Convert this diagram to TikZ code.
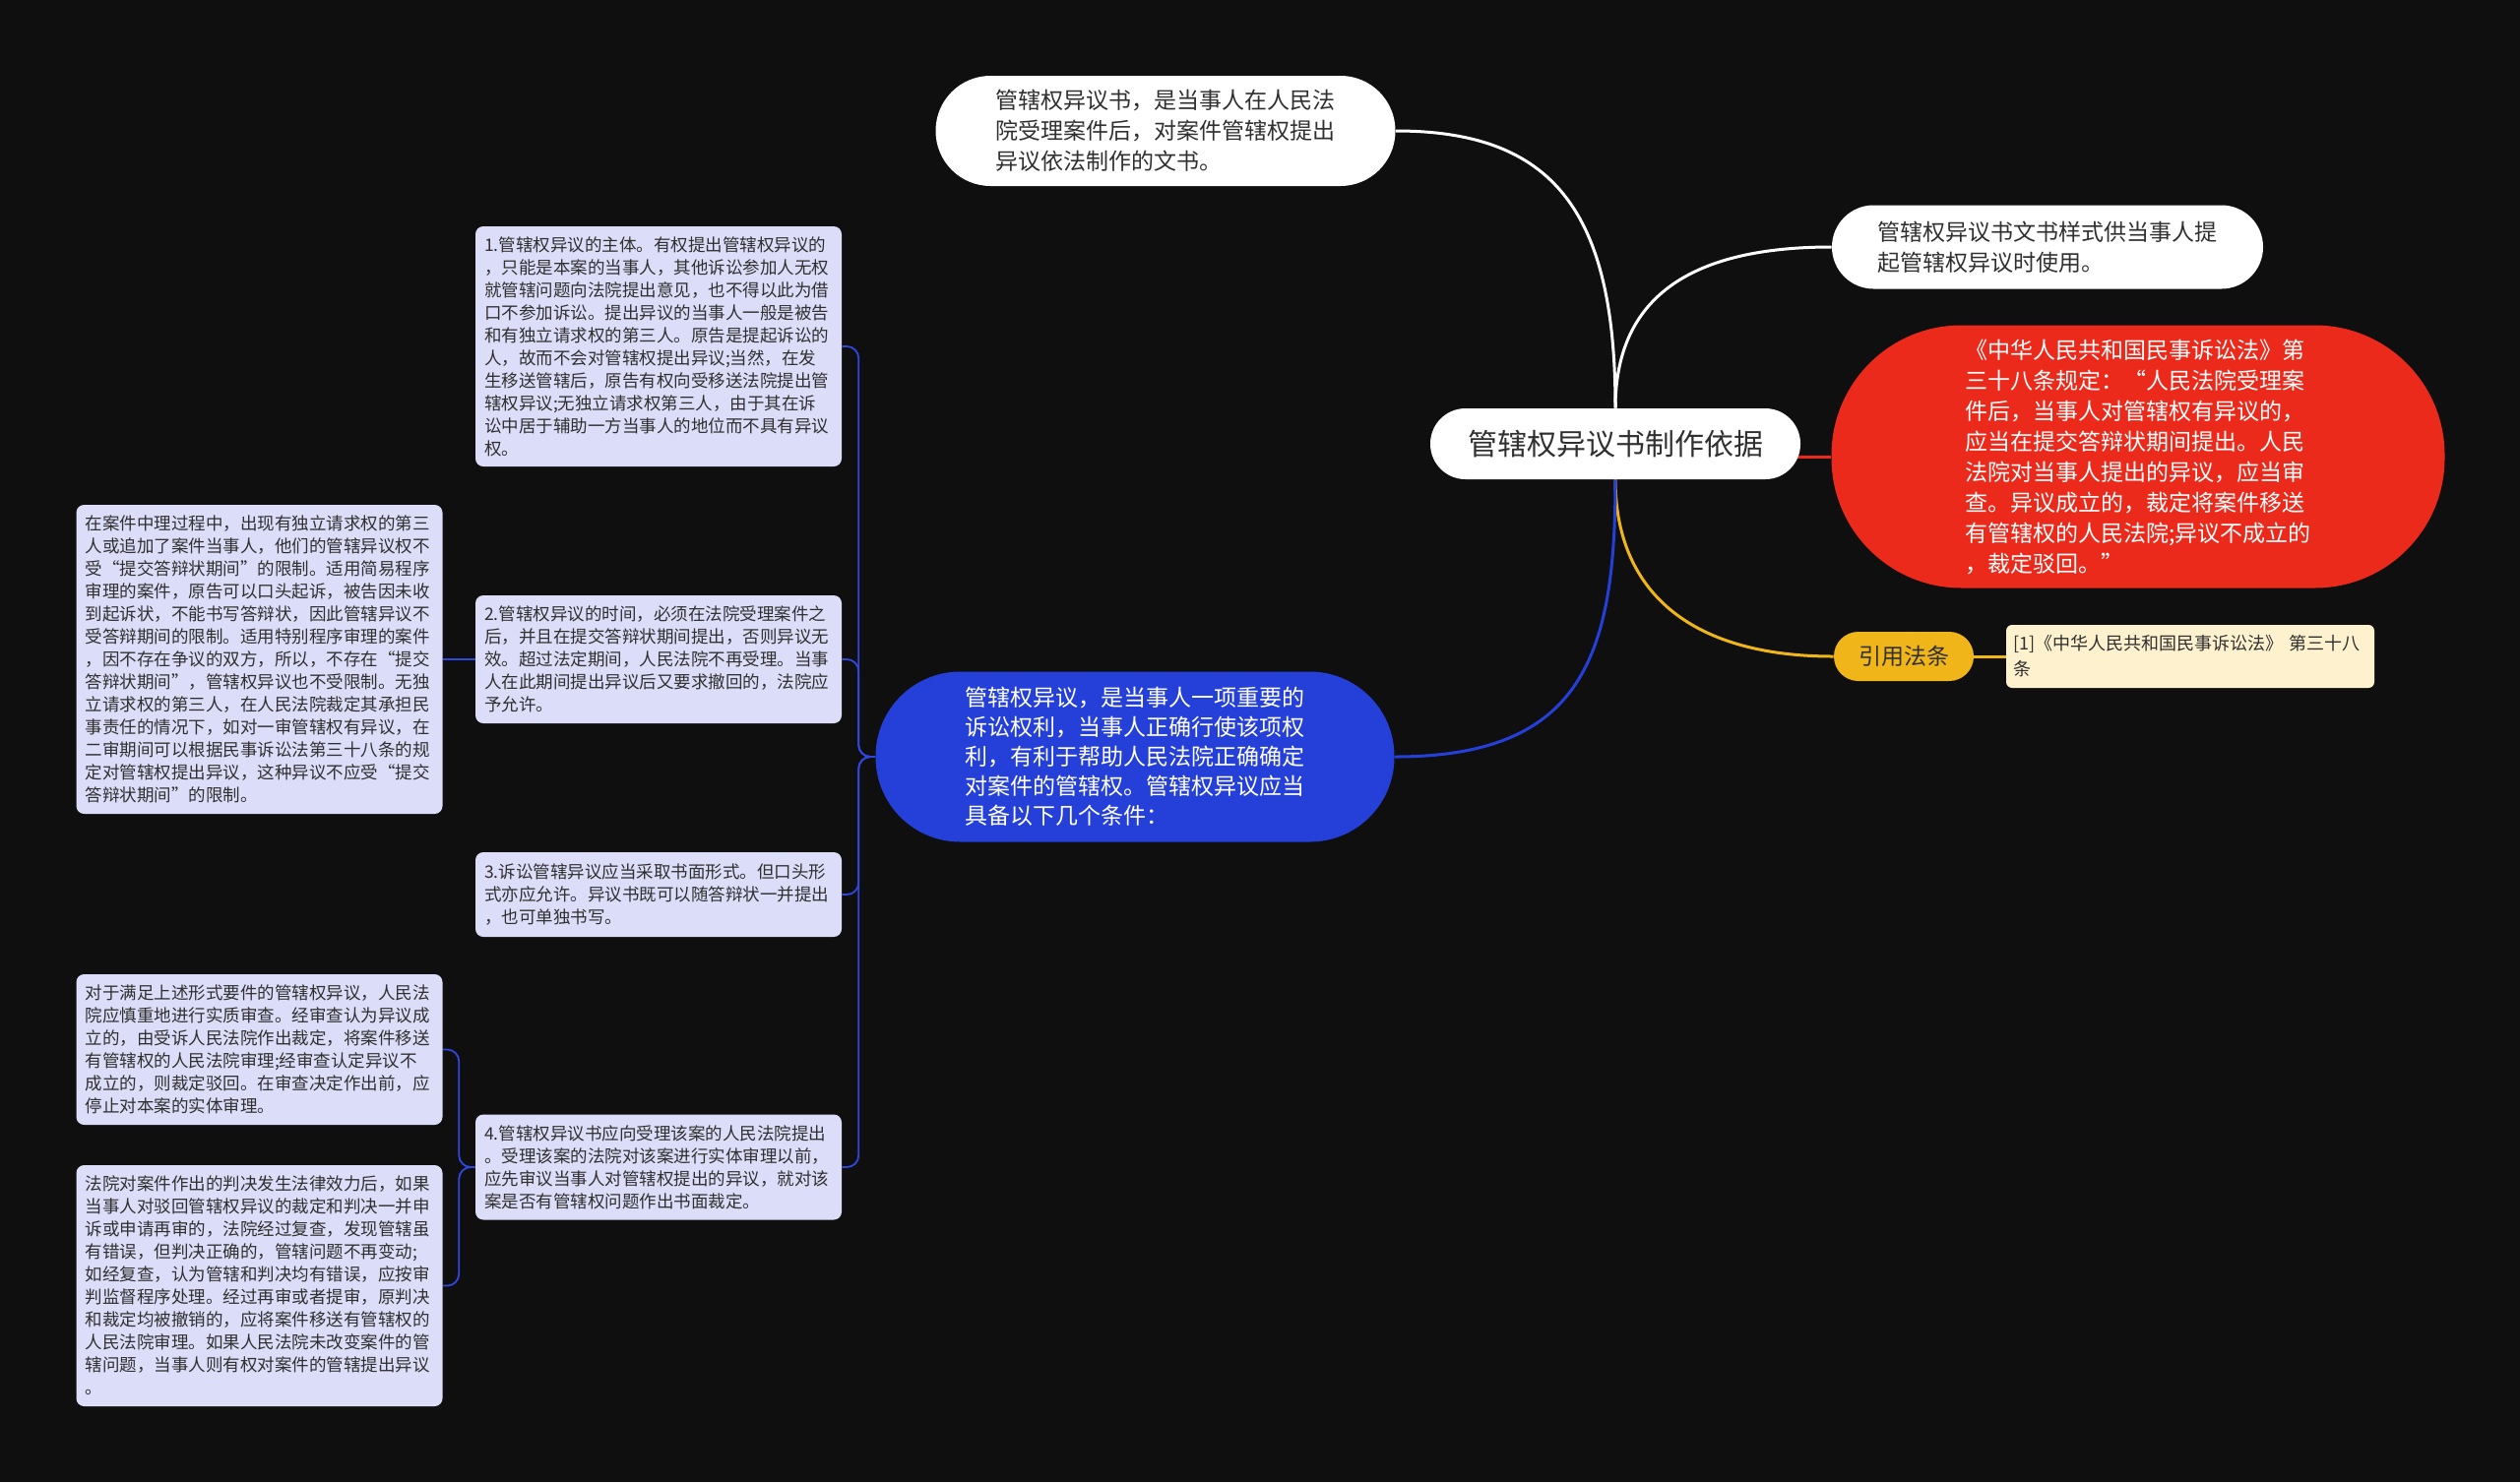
\documentclass[tikz,border=0pt]{standalone}
\usepackage{fontspec}
\setmainfont{Noto Sans CJK SC}
\usetikzlibrary{calc}
\definecolor{bgc}{HTML}{0F0F0F}
\definecolor{lav}{HTML}{DCDDF8}
\definecolor{txt}{HTML}{303030}
\definecolor{redn}{HTML}{EC2A1B}
\definecolor{yeln}{HTML}{F0B518}
\definecolor{notec}{HTML}{FDF1CE}
\definecolor{bluen}{HTML}{2540D9}
\definecolor{bthin}{HTML}{3048E0}
\pgfdeclarelayer{bglayer}
\pgfsetlayers{bglayer,main}
\tikzset{
  midfont/.style={font=\fontsize{11.5pt}{15.5pt}\selectfont},
  whitepill/.style={fill=white, text=txt, inner sep=0pt, align=left, midfont},
  lavbox/.style={fill=lav, text=txt, rounded corners=4pt, text width=177pt,
     inner xsep=4.5pt, inner ysep=4pt, align=left,
     font=\fontsize{8.75pt}{11.5pt}\selectfont},
  mainline/.style={line width=1.5pt},
  bline/.style={draw=bthin, line width=0.9pt, rounded corners=6pt},
}
\begin{document}
\begin{tikzpicture}[x=0.5pt,y=-0.5pt]
\useasboundingbox (0,0) rectangle (2560,1506);

% central node
\node[whitepill, minimum width=188pt, minimum height=36pt, rounded corners=17.9pt,
      font=\fontsize{15pt}{18pt}\selectfont] (root) at (1641,451) {管辖权异议书制作依据};

% upper white nodes
\node[whitepill, minimum width=233.5pt, minimum height=56pt, rounded corners=27.9pt] (topw) at (1184,133)
{管辖权异议书，是当事人在人民法\\院受理案件后，对案件管辖权提出\\异议依法制作的文书。};

\node[whitepill, minimum width=219pt, minimum height=42.5pt, rounded corners=21.2pt] (styl) at (2080,251)
{管辖权异议书文书样式供当事人提\\起管辖权异议时使用。};

% red node
\node[fill=redn, text=white, inner sep=0pt, align=left, midfont, minimum width=311.5pt,
      minimum height=133.5pt, rounded corners=66pt] (red) at (2172,464)
{《中华人民共和国民事诉讼法》第\\三十八条规定：“人民法院受理案\\件后，当事人对管辖权有异议的，\\应当在提交答辩状期间提出。人民\\法院对当事人提出的异议，应当审\\查。异议成立的，裁定将案件移送\\有管辖权的人民法院;异议不成立的\\，裁定驳回。”};

% yellow node and note
\node[fill=yeln, text=txt, inner sep=0pt, midfont, minimum width=71pt, minimum height=25pt,
      rounded corners=12.4pt] (yel) at (1934,667) {引用法条};
\node[fill=notec, text=txt, rounded corners=3pt, text width=180pt, inner xsep=3.5pt,
      inner ysep=3pt, minimum height=32pt, align=left,
      font=\fontsize{9pt}{13pt}\selectfont] (note) at (2225,667)
{[1]《中华人民共和国民事诉讼法》 第三十八\\条};

% blue node
\node[fill=bluen, text=white, inner sep=0pt, align=left, font=\fontsize{11.5pt}{15pt}\selectfont,
      minimum width=263.5pt, minimum height=86.5pt, rounded corners=43pt] (blue) at (1153,769)
{管辖权异议，是当事人一项重要的\\诉讼权利，当事人正确行使该项权\\利，有利于帮助人民法院正确确定\\对案件的管辖权。管辖权异议应当\\具备以下几个条件：};

% lavender boxes, middle column
\node[lavbox, minimum height=122pt] (c1) at (669,352)
{1.管辖权异议的主体。有权提出管辖权异议的\\，只能是本案的当事人，其他诉讼参加人无权\\就管辖问题向法院提出意见，也不得以此为借\\口不参加诉讼。提出异议的当事人一般是被告\\和有独立请求权的第三人。原告是提起诉讼的\\人，故而不会对管辖权提出异议;当然，在发\\生移送管辖后，原告有权向受移送法院提出管\\辖权异议;无独立请求权第三人，由于其在诉\\讼中居于辅助一方当事人的地位而不具有异议\\权。};

\node[lavbox, minimum height=65pt] (c2) at (669,670)
{2.管辖权异议的时间，必须在法院受理案件之\\后，并且在提交答辩状期间提出，否则异议无\\效。超过法定期间，人民法院不再受理。当事\\人在此期间提出异议后又要求撤回的，法院应\\予允许。};

\node[lavbox, minimum height=43pt] (c3) at (669,909)
{3.诉讼管辖异议应当采取书面形式。但口头形\\式亦应允许。异议书既可以随答辩状一并提出\\，也可单独书写。};

\node[lavbox, minimum height=53.5pt] (c4) at (669,1186)
{4.管辖权异议书应向受理该案的人民法院提出\\。受理该案的法院对该案进行实体审理以前，\\应先审议当事人对管辖权提出的异议，就对该\\案是否有管辖权问题作出书面裁定。};

% lavender boxes, left column
\node[lavbox, minimum height=157pt] (c2a) at (263.5,670)
{在案件中理过程中，出现有独立请求权的第三\\人或追加了案件当事人，他们的管辖异议权不\\受“提交答辩状期间”的限制。适用简易程序\\审理的案件，原告可以口头起诉，被告因未收\\到起诉状，不能书写答辩状，因此管辖异议不\\受答辩期间的限制。适用特别程序审理的案件\\，因不存在争议的双方，所以，不存在“提交\\答辩状期间”，管辖权异议也不受限制。无独\\立请求权的第三人，在人民法院裁定其承担民\\事责任的情况下，如对一审管辖权有异议，在\\二审期间可以根据民事诉讼法第三十八条的规\\定对管辖权提出异议，这种异议不应受“提交\\答辩状期间”的限制。};

\node[lavbox, minimum height=76.5pt] (c4a) at (263.5,1066.5)
{对于满足上述形式要件的管辖权异议，人民法\\院应慎重地进行实质审查。经审查认为异议成\\立的，由受诉人民法院作出裁定，将案件移送\\有管辖权的人民法院审理;经审查认定异议不\\成立的，则裁定驳回。在审查决定作出前，应\\停止对本案的实体审理。};

\node[lavbox, minimum height=122.5pt] (c4b) at (263.5,1306.5)
{法院对案件作出的判决发生法律效力后，如果\\当事人对驳回管辖权异议的裁定和判决一并申\\诉或申请再审的，法院经过复查，发现管辖虽\\有错误，但判决正确的，管辖问题不再变动;\\如经复查，认为管辖和判决均有错误，应按审\\判监督程序处理。经过再审或者提审，原判决\\和裁定均被撤销的，应将案件移送有管辖权的\\人民法院审理。如果人民法院未改变案件的管\\辖问题，当事人则有权对案件的管辖提出异议\\。};

\begin{pgfonlayer}{bglayer}
  \fill[bgc] (0,0) rectangle (2560,1506);
  % main connectors
  \draw[mainline, white] (root.north) .. controls +(0,-200) and +(160,0) .. (topw.east);
  \draw[mainline, white] (root.north) .. controls +(0,-115) and +(-140,0) .. (styl.west);
  \draw[mainline, redn] (root.center |- red.west) -- (red.west);
  \draw[mainline, yeln] (root.south) .. controls +(0,110) and +(-150,0) .. (yel.west);
  \draw[mainline, yeln] (yel.east) -- (note.west);
  \draw[mainline, bluen] (root.south) .. controls +(0,180) and +(190,0) .. (blue.east);
  % blue branch children
  \draw[bline] (blue.west) -| ($(blue.west)!0.5!(c1.east)$) |- (c1.east);
  \draw[bline] (blue.west) -| ($(blue.west)!0.5!(c2.east)$) |- (c2.east);
  \draw[bline] (blue.west) -| ($(blue.west)!0.5!(c3.east)$) |- (c3.east);
  \draw[bline] (blue.west) -| ($(blue.west)!0.5!(c4.east)$) |- (c4.east);
  \draw[bline] (c2.west) -- (c2a.east);
  \draw[bline] (c4.west) -| ($(c4.west)!0.5!(c4a.east)$) |- (c4a.east);
  \draw[bline] (c4.west) -| ($(c4.west)!0.5!(c4b.east)$) |- (c4b.east);
\end{pgfonlayer}
\end{tikzpicture}
\end{document}
